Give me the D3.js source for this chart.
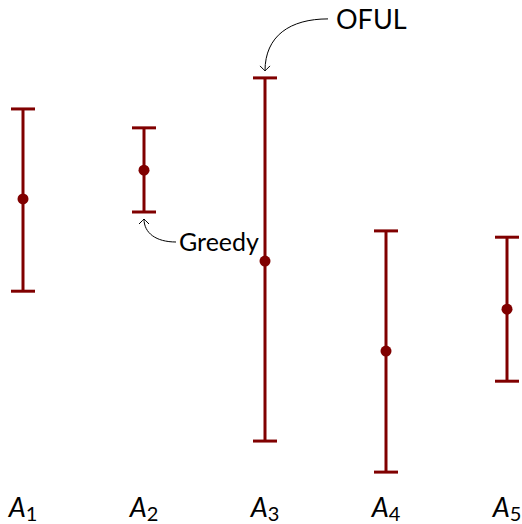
<!DOCTYPE html>
<html>
<head>
<meta charset="utf-8">
<script src="https://cdn.jsdelivr.net/npm/d3@7"></script>
<style>
  html, body { margin: 0; padding: 0; background: #fff; }
  text { font-family: Lato, "Open Sans", sans-serif; }
</style>
</head>
<body>
<div class="container"></div>
<script>
// arms and their intervals (arbitrary units)
const arms = ['1', '2', '3', '4', '5'];
const means = [6.49, 7.13, 5.11, 3.11, 4.04];
const lows = [4.44, 6.20, 1.11, 0.42, 2.44];
const highs = [8.49, 8.07, 9.18, 5.78, 5.64];

const width = 522, height = 524;
const col = '#800000';

const svg = d3.select('.container')
  .append('svg')
  .attr('width', width)
  .attr('height', height);

const x = d3.scalePoint().domain(arms).range([23, 507]);
const y = d3.scaleLinear().domain([0, 10]).range([491, 41]);

const rows = arms.map((a, i) => ({arm: a, mean: means[i], lo: lows[i], hi: highs[i]}));
const cap = 12;
const sw = 3;

const bars = svg.append('g')
  .selectAll('g')
  .data(rows)
  .enter().append('g');

bars.append('line')
  .attr('x1', d => x(d.arm)).attr('x2', d => x(d.arm))
  .attr('y1', d => y(d.lo)).attr('y2', d => y(d.hi))
  .attr('stroke', col).attr('stroke-width', sw);
bars.append('line')
  .attr('x1', d => x(d.arm) - cap).attr('x2', d => x(d.arm) + cap)
  .attr('y1', d => y(d.hi)).attr('y2', d => y(d.hi))
  .attr('stroke', col).attr('stroke-width', sw);
bars.append('line')
  .attr('x1', d => x(d.arm) - cap).attr('x2', d => x(d.arm) + cap)
  .attr('y1', d => y(d.lo)).attr('y2', d => y(d.lo))
  .attr('stroke', col).attr('stroke-width', sw);
bars.append('circle')
  .attr('cx', d => x(d.arm)).attr('cy', d => y(d.mean))
  .attr('r', 5.5).attr('fill', col);

// arm labels A_i
const lab = svg.append('g')
  .selectAll('text')
  .data(arms)
  .enter().append('text')
  .attr('x', d => x(d))
  .attr('y', 517)
  .attr('text-anchor', 'middle')
  .style('font-size', '27px');
lab.append('tspan').text('A').style('font-style', 'italic');
lab.append('tspan').text(d => d).attr('dy', 4).style('font-size', '20px');

// arrowhead
svg.append('defs').append('marker')
  .attr('id', 'arr')
  .attr('viewBox', '-6 -6 8 12')
  .attr('markerWidth', 8).attr('markerHeight', 12)
  .attr('markerUnits', 'userSpaceOnUse')
  .attr('refX', 0).attr('refY', 0)
  .attr('orient', 'auto')
  .append('path')
  .attr('d', 'M-5,-5 Q-1,-1 0,0 Q-1,1 -5,5')
  .attr('fill', 'none').attr('stroke', '#000').attr('stroke-width', 1);

// OFUL annotation -> top of A3
const ox = x('3'), oy = y(highs[2]) - 7;
svg.append('path')
  .attr('d', `M${ox + 63},${oy - 52} C${ox + 25},${oy - 52} ${ox},${oy - 35} ${ox},${oy}`)
  .attr('fill', 'none').attr('stroke', '#000').attr('stroke-width', 1)
  .attr('marker-end', 'url(#arr)');
svg.append('text')
  .attr('x', ox + 71).attr('y', oy - 42)
  .style('font-size', '27px')
  .text('OFUL');

// Greedy annotation -> bottom of A2
const gx = x('2'), gy = y(lows[1]) + 7;
svg.append('path')
  .attr('d', `M${gx + 32},${gy + 23} C${gx + 12},${gy + 23} ${gx},${gy + 14} ${gx},${gy}`)
  .attr('fill', 'none').attr('stroke', '#000').attr('stroke-width', 1)
  .attr('marker-end', 'url(#arr)');
svg.append('text')
  .attr('x', gx + 35).attr('y', gy + 32)
  .style('font-size', '25px')
  .text('Greedy');
</script>
</body>
</html>
